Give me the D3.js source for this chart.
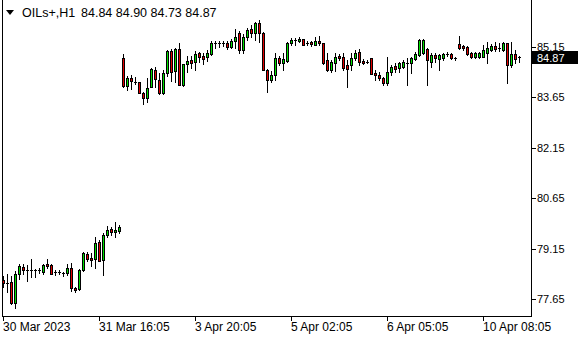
<!DOCTYPE html>
<html><head><meta charset="utf-8">
<script src="https://cdn.jsdelivr.net/npm/d3@7"></script>
<style>html,body{margin:0;padding:0;background:#fff;overflow:hidden}svg{display:block}</style>
</head><body>
<script>
const symbol = "OILs+,H1";
const lastBar = {open: 84.84, high: 84.90, low: 84.73, close: 84.87};
const priceTicks = [85.15, 83.65, 82.15, 80.65, 79.15, 77.65];
const timeLabels = ["30 Mar 2023", "31 Mar 16:05", "3 Apr 20:05", "5 Apr 02:05", "6 Apr 05:05", "10 Apr 08:05"];
const timeLabelBars = [0, 24, 48, 72, 96, 120];

const open = [
78.22,78.13,78.16,77.56,78.40,78.63,78.54,78.53,78.55,78.53,
78.48,78.72,78.69,78.45,78.46,78.46,78.43,78.60,77.98,77.95,
78.54,78.99,78.90,78.87,79.35,78.84,79.56,79.74,79.65,79.68,
84.84,84.00,84.24,84.13,84.12,83.80,83.64,83.97,84.48,84.18,
83.79,84.39,85.05,84.45,85.11,84.03,84.66,84.78,84.72,84.99,
84.90,84.87,84.96,85.28,85.27,85.28,85.28,85.17,85.34,85.58,
85.08,85.46,85.70,85.58,85.88,85.58,84.48,84.18,84.33,84.84,
84.69,84.75,85.28,85.37,85.35,85.40,85.28,85.31,85.23,85.34,
85.28,84.78,84.48,84.69,84.90,84.87,84.63,84.63,84.84,85.02,
84.75,84.72,84.84,84.39,84.33,84.24,84.09,84.42,84.60,84.54,
84.57,84.70,84.69,84.81,84.93,84.99,85.11,84.72,84.93,84.81,
84.84,84.96,84.96,84.84,85.26,85.20,85.17,84.99,84.87,84.87,
84.87,84.99,85.08,85.20,85.14,85.08,85.28,84.63,84.96,84.84];
const high = [
78.34,78.42,78.34,78.51,78.72,78.72,78.69,78.87,78.55,78.60,
78.70,78.87,78.72,78.54,78.54,78.48,78.72,78.75,78.01,78.57,
79.05,79.05,79.02,79.50,79.42,79.62,79.83,79.80,79.95,79.86,
84.96,84.30,84.33,84.27,84.13,83.82,84.24,84.54,84.57,84.39,
84.48,85.08,85.11,85.14,85.28,84.66,84.90,84.90,85.05,85.02,
84.99,85.08,85.34,85.34,85.34,85.34,85.34,85.40,85.70,85.64,
85.55,85.73,85.82,85.91,85.97,85.60,84.50,84.45,84.99,84.90,
84.99,85.31,85.43,85.43,85.46,85.41,85.34,85.34,85.46,85.49,
85.29,84.99,84.78,84.99,84.96,84.99,84.78,84.99,85.08,85.11,
84.81,84.78,84.85,84.48,84.42,84.27,84.87,84.63,84.69,84.72,
84.78,84.84,84.87,85.02,85.40,85.40,85.14,84.99,84.99,84.96,
84.99,85.02,84.99,84.87,85.49,85.23,85.20,85.02,85.02,85.02,
85.23,85.31,85.26,85.31,85.28,85.31,85.29,85.31,85.08,84.90];
const low = [
78.01,77.86,77.53,77.41,78.25,78.40,78.19,78.31,78.31,78.45,
78.42,78.60,78.40,78.37,78.42,78.34,78.37,77.89,77.86,77.92,
78.51,78.81,78.66,78.60,78.81,78.37,79.50,79.56,79.50,79.62,
83.97,83.88,83.91,84.06,83.79,83.47,83.52,83.96,83.97,83.76,
83.76,84.30,84.15,84.12,84.03,84.00,84.42,84.54,84.48,84.72,
84.66,84.75,84.93,85.14,85.17,85.20,85.11,85.14,85.14,84.99,
84.99,85.37,85.46,85.37,85.31,84.48,83.82,84.12,84.18,84.63,
84.48,84.72,85.23,85.23,85.31,85.23,85.23,85.20,85.22,85.23,
84.66,84.45,84.42,84.45,84.78,84.48,83.97,84.48,84.78,84.63,
84.66,84.69,84.36,84.18,84.18,84.03,84.03,84.33,84.42,84.42,
84.54,84.03,84.39,84.78,84.90,84.96,84.03,84.57,84.72,84.48,
84.78,84.90,84.81,84.78,85.11,85.08,84.93,84.84,84.84,84.84,
84.87,84.69,85.05,85.05,85.05,85.05,84.09,84.57,84.69,84.73];
const close = [
78.13,78.14,77.56,78.42,78.66,78.54,78.53,78.52,78.54,78.52,
78.69,78.66,78.42,78.46,78.47,78.45,78.60,77.98,77.92,78.54,
79.02,78.87,78.84,79.32,78.81,79.56,79.71,79.65,79.72,79.80,
84.00,84.24,84.15,84.12,83.80,83.64,83.94,84.51,84.21,83.79,
84.39,85.05,84.42,85.11,84.03,84.66,84.75,84.69,84.96,84.87,
84.81,84.99,85.28,85.27,85.28,85.28,85.17,85.34,85.46,85.08,
85.46,85.67,85.58,85.88,85.58,84.48,84.18,84.33,84.84,84.69,
84.81,85.28,85.37,85.36,85.40,85.23,85.27,85.26,85.34,85.28,
84.69,84.48,84.72,84.87,84.84,84.54,84.51,84.84,84.99,84.72,
84.69,84.71,84.36,84.33,84.24,84.09,84.42,84.57,84.51,84.69,
84.72,84.69,84.84,84.96,85.37,85.37,84.78,84.93,84.84,84.93,
84.96,84.95,84.84,84.85,85.14,85.14,84.96,84.87,84.99,84.99,
85.08,85.14,85.20,85.11,85.13,85.28,84.63,84.96,84.81,84.87];

const W = 580, H = 340;
const frame = {left: 2, right: 531, bottom: 316};
const bullColor = "#00E000", bearColor = "#E00000";

const svg = d3.select("body").append("svg").attr("width", W).attr("height", H)
  .attr("shape-rendering", "crispEdges");

const x = d3.scaleLinear().domain([0, open.length - 1]).range([3.5, 3.5 + 4 * (open.length - 1)]);
const y = d3.scaleLinear().domain([77.65, 85.15]).range([299.5, 47.5]);
const snap = v => Math.round(v - 0.5) + 0.5;

const bars = open.map((o, i) => ({i, o, h: high[i], l: low[i], c: close[i]}));

// frame
const g = svg.append("g");
g.append("line").attr("x1", frame.left + 0.5).attr("x2", frame.left + 0.5).attr("y1", 0).attr("y2", frame.bottom + 0.5).attr("stroke", "#000");
g.append("line").attr("x1", frame.right + 0.5).attr("x2", frame.right + 0.5).attr("y1", 0).attr("y2", frame.bottom + 0.5).attr("stroke", "#000");
g.append("line").attr("x1", frame.left).attr("x2", frame.right + 1).attr("y1", frame.bottom + 0.5).attr("y2", frame.bottom + 0.5).attr("stroke", "#000");

// candles
const cg = svg.append("g");
cg.selectAll("line.wick").data(bars).join("line").attr("class", "wick")
  .attr("x1", d => x(d.i)).attr("x2", d => x(d.i))
  .attr("y1", d => Math.round(y(d.h))).attr("y2", d => Math.round(y(d.l)) + 1)
  .attr("stroke", "#000");
bars.forEach(d => {
  const yo = Math.round(y(d.o)), yc = Math.round(y(d.c));
  const cx = x(d.i);
  if (Math.abs(yo - yc) < 2) {
    cg.append("line").attr("x1", cx - 1.5).attr("x2", cx + 1.5)
      .attr("y1", yc + 0.5).attr("y2", yc + 0.5).attr("stroke", "#000");
  } else {
    const top = Math.min(yo, yc), bot = Math.max(yo, yc);
    cg.append("rect").attr("x", cx - 1).attr("width", 2)
      .attr("y", top + 0.5).attr("height", bot - top)
      .attr("fill", d.c > d.o ? bullColor : bearColor).attr("stroke", "#000");
  }
});

// price axis
const pa = svg.append("g").attr("font-family", "'Liberation Sans', Arial, sans-serif").attr("font-size", 11);
priceTicks.forEach(p => {
  const yy = snap(y(p));
  pa.append("line").attr("x1", frame.right + 1).attr("x2", frame.right + 5).attr("y1", yy).attr("y2", yy).attr("stroke", "#000");
  pa.append("text").attr("x", 537).attr("y", yy + 3.5).attr("fill", "#000").text(p.toFixed(2));
});
// current price label
const cy = Math.round(y(lastBar.close));
svg.append("rect").attr("x", 532).attr("y", cy - 6).attr("width", 46).attr("height", 13).attr("fill", "#000");
svg.append("text").attr("x", 537).attr("y", cy + 4.5).attr("fill", "#fff")
  .attr("font-family", "'Liberation Sans', Arial, sans-serif").attr("font-size", 11).text(lastBar.close.toFixed(2));

// time axis
const ta = svg.append("g").attr("font-family", "'Liberation Sans', Arial, sans-serif").attr("font-size", 12);
timeLabels.forEach((t, k) => {
  const xx = x(timeLabelBars[k]);
  ta.append("line").attr("x1", xx).attr("x2", xx).attr("y1", frame.bottom + 1).attr("y2", frame.bottom + 5).attr("stroke", "#000");
  ta.append("text").attr("x", xx - 0.5).attr("y", 331).attr("fill", "#000").text(t);
});

// title
svg.append("path").attr("d", "M6,10L14,10L10,15Z").attr("fill", "#000").attr("shape-rendering", "auto");
const tg = svg.append("g").attr("font-family", "'Liberation Sans', Arial, sans-serif").attr("font-size", 12.5).attr("fill", "#000");
tg.append("text").attr("x", 22).attr("y", 17).text(symbol);
tg.append("text").attr("x", 81).attr("y", 17)
  .text([lastBar.open, lastBar.high, lastBar.low, lastBar.close].map(v => v.toFixed(2)).join(" "));
</script>
</body></html>
